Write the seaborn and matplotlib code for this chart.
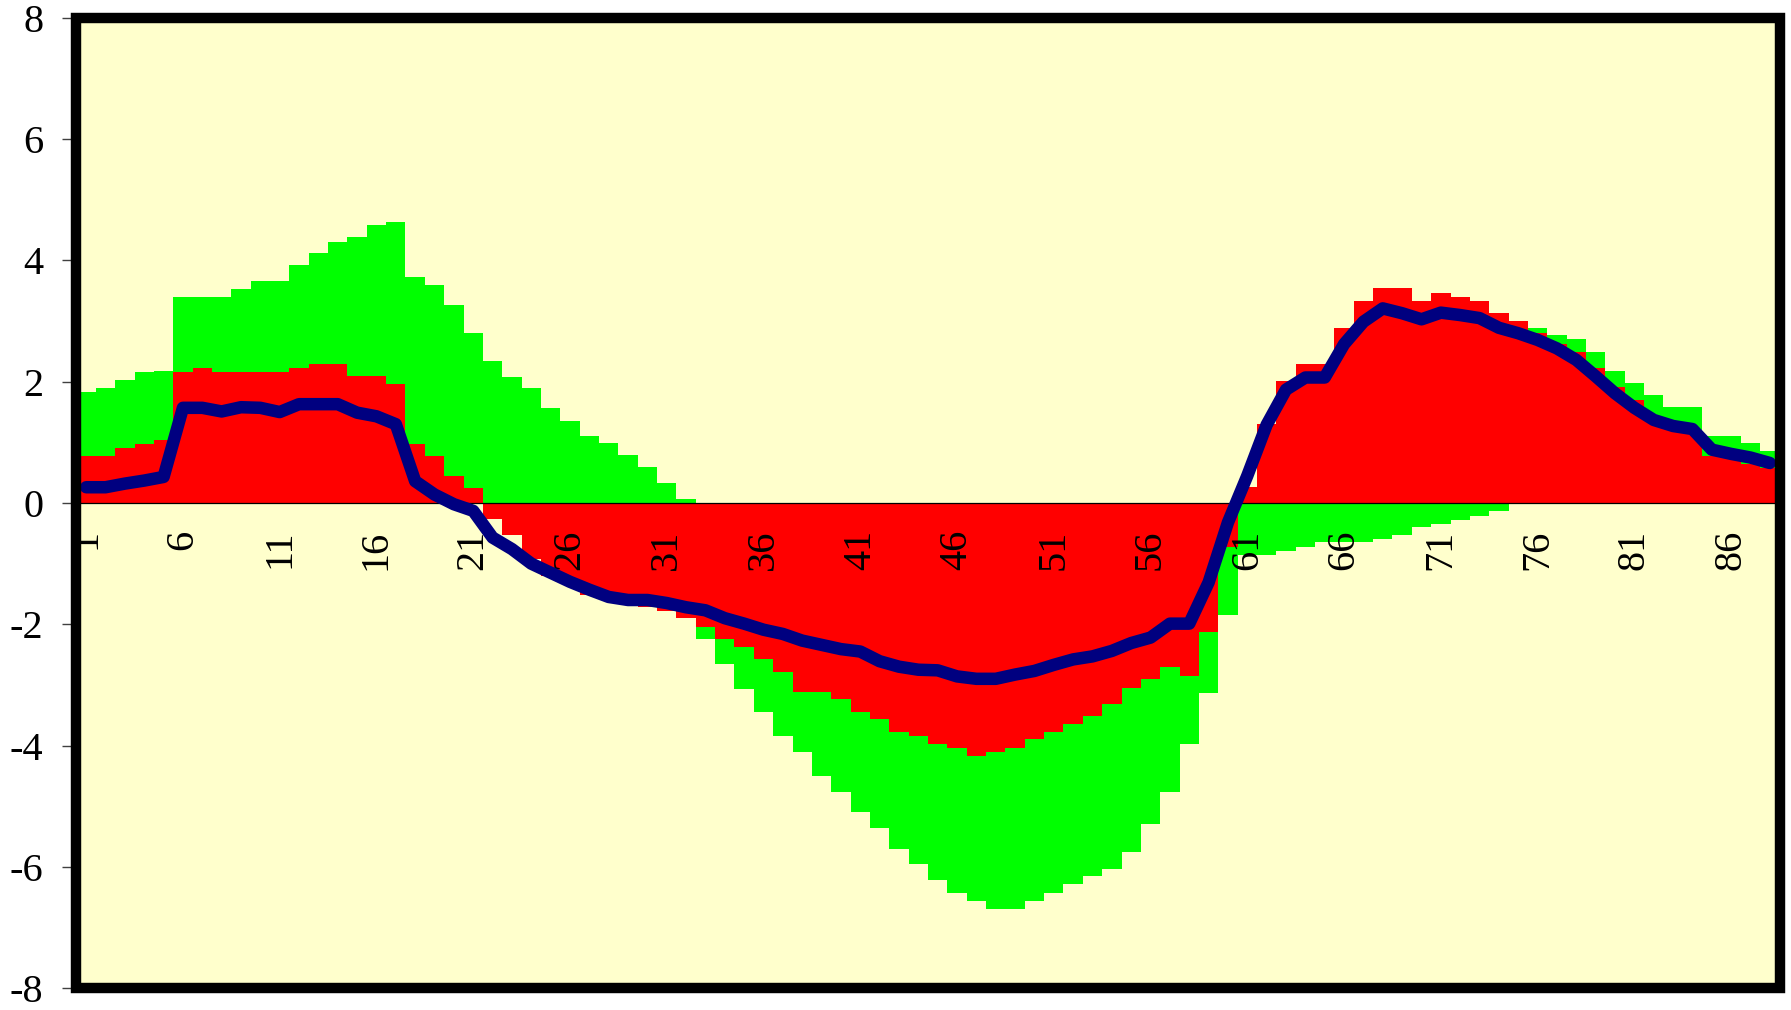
import numpy as np
import pandas as pd
import matplotlib
matplotlib.use("Agg")
import matplotlib.pyplot as plt
from matplotlib.patches import Rectangle
from matplotlib.ticker import FixedLocator
import seaborn as sns

# Periods along the horizontal axis
periods = list(range(1, 89))

# Green series (wide component)
green_vals = [
    1.83, 1.89, 2.03, 2.16, 2.18, 3.39, 3.39, 3.39, 3.53, 3.66,
    3.66, 3.92, 4.12, 4.31, 4.38, 4.58, 4.64, 3.72, 3.59, 3.27,
    2.81, 2.35, 2.08, 1.89, 1.56, 1.36, 1.10, 0.99, 0.79, 0.60,
    0.33, 0.064, -2.25, -2.66, -3.06, -3.44, -3.84, -4.10, -4.50, -4.76,
    -5.10, -5.36, -5.70, -5.96, -6.22, -6.43, -6.56, -6.69, -6.69, -6.56,
    -6.43, -6.29, -6.16, -6.03, -5.76, -5.30, -4.76, -3.97, -3.13, -1.84,
    -0.85, -0.85, -0.79, -0.72, -0.65, -0.65, -0.65, -0.59, -0.52, -0.40,
    -0.35, -0.28, -0.21, -0.14, 2.98, 2.89, 2.77, 2.70, 2.49, 2.17,
    1.98, 1.78, 1.59, 1.59, 1.11, 1.11, 0.99, 0.85,
]

# Red series (drawn over the green one)
red_vals = [
    0.78, 0.78, 0.91, 0.97, 1.04, 2.16, 2.22, 2.16, 2.16, 2.16,
    2.16, 2.22, 2.29, 2.29, 2.10, 2.10, 1.97, 0.97, 0.78, 0.45,
    0.25, -0.27, -0.52, -0.93, -1.20, -1.31, -1.51, -1.58, -1.66, -1.71,
    -1.78, -1.90, -2.05, -2.25, -2.38, -2.58, -2.78, -3.11, -3.11, -3.24,
    -3.44, -3.57, -3.78, -3.84, -3.97, -4.04, -4.17, -4.11, -4.04, -3.90,
    -3.78, -3.64, -3.51, -3.31, -3.05, -2.91, -2.71, -2.85, -2.12, -0.73,
    0.26, 1.30, 2.02, 2.29, 2.29, 2.88, 3.34, 3.54, 3.54, 3.34,
    3.47, 3.40, 3.34, 3.14, 3.01, 2.81, 2.62, 2.49, 2.22, 1.92,
    1.70, 1.40, 1.25, 1.16, 0.78, 0.75, 0.64, 0.58,
]

# Navy line series
line_vals = [
    0.26, 0.26, 0.32, 0.37, 0.43, 1.57, 1.57, 1.51, 1.58, 1.57,
    1.50, 1.63, 1.63, 1.63, 1.49, 1.43, 1.30, 0.36, 0.14, -0.02,
    -0.13, -0.57, -0.76, -1.00, -1.15, -1.30, -1.43, -1.55, -1.60, -1.60,
    -1.65, -1.72, -1.77, -1.90, -1.99, -2.09, -2.16, -2.27, -2.34, -2.41,
    -2.45, -2.61, -2.70, -2.75, -2.76, -2.86, -2.90, -2.90, -2.83, -2.77,
    -2.67, -2.58, -2.53, -2.44, -2.31, -2.22, -1.99, -1.99, -1.31, -0.32,
    0.45, 1.29, 1.87, 2.07, 2.07, 2.62, 2.99, 3.21, 3.13, 3.03,
    3.14, 3.10, 3.05, 2.89, 2.80, 2.69, 2.55, 2.36, 2.09, 1.81,
    1.57, 1.37, 1.27, 1.22, 0.88, 0.81, 0.75, 0.66,
]

# Axis labelling
x_tick_positions = list(range(1, 89, 5))
x_tick_labels = [str(p) for p in x_tick_positions]
y_ticks = [-8, -6, -4, -2, 0, 2, 4, 6, 8]
y_tick_labels = [str(v) for v in y_ticks]

sns.set_style("white")
plt.rcParams["font.family"] = ["Liberation Serif", "DejaVu Serif"]
plt.rcParams["axes.unicode_minus"] = False

df = pd.DataFrame({
    "period": periods,
    "green": green_vals,
    "red": red_vals,
    "line": line_vals,
})

fig = plt.figure(figsize=(17.91, 10.10), dpi=100, facecolor="white")
ax = fig.add_axes([0.04271, 0.02178, 0.95087, 0.9604])
ax.set_facecolor("#FFFFCC")

sns.barplot(data=df, x="period", y="green", native_scale=True, width=1,
            color="#00FF00", saturation=1, errorbar=None,
            linewidth=0, antialiased=False, zorder=1, ax=ax)
sns.barplot(data=df, x="period", y="red", native_scale=True, width=1,
            color="#FF0000", saturation=1, errorbar=None,
            linewidth=0, antialiased=False, zorder=1, ax=ax)
sns.lineplot(data=df, x="period", y="line", sort=False, errorbar=None,
             color="#000080", linewidth=9, solid_capstyle="round",
             solid_joinstyle="round", zorder=3, ax=ax)

ax.set_xlim(0.5, 88.5)
ax.set_ylim(-8, 8)
ax.set_xlabel("")
ax.set_ylabel("")
ax.set_axisbelow("line")

# Horizontal axis runs through zero
for side in ("top", "left", "right"):
    ax.spines[side].set_visible(False)
ax.spines["bottom"].set_position(("data", 0))
ax.spines["bottom"].set_linewidth(0.9)
ax.spines["bottom"].set_color("black")

ax.set_xticks(x_tick_positions, x_tick_labels, rotation=90)
ax.xaxis.set_minor_locator(FixedLocator(np.arange(0.5, 89, 1.0)))
ax.tick_params(axis="x", which="major", length=0, pad=19, labelsize=29,
               labelcolor="black")
ax.tick_params(axis="x", which="minor", length=9, width=1.0,
               color="#404040", direction="out")

ax.set_yticks(y_ticks, y_tick_labels)
ax.tick_params(axis="y", which="major", left=True, length=10, width=1.0,
               color="#404040", direction="out", pad=14, labelsize=29,
               labelcolor="black")

# Heavy frame around the plot area
ax.add_patch(Rectangle((0, 0), 1, 1, transform=ax.transAxes, fill=False,
                       edgecolor="black", linewidth=7.5, zorder=10,
                       clip_on=False, joinstyle="miter"))

fig.savefig("out.png", dpi=100, facecolor="white")
